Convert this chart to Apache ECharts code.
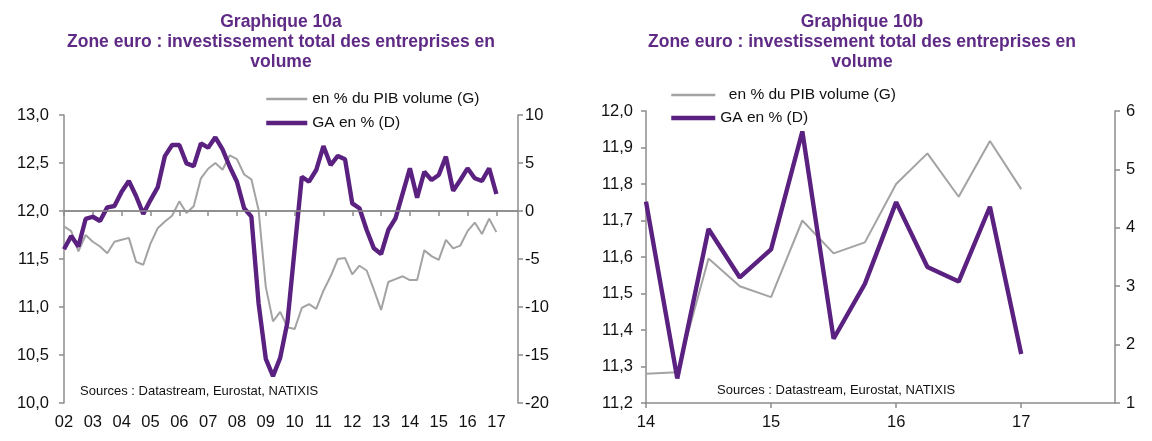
<!DOCTYPE html>
<html><head><meta charset="utf-8">
<script src="https://cdn.jsdelivr.net/npm/echarts@6/dist/echarts.min.js"></script>
<style>html,body{margin:0;padding:0;background:#fff}#c{width:1152px;height:441px}</style>
</head><body><div id="c"></div>
<script>
// ---- Data: Graphique 10a (quarterly 2002T1 .. 2017T1, axis to 2017T4)
const yearsA = ['02','03','04','05','06','07','08','09','10','11','12','13','14','15','16','17'];
const pibA = [11.84,11.79,11.58,11.75,11.68,11.63,11.56,11.68,11.70,11.72,11.47,11.44,11.66,11.82,11.89,11.95,
  12.10,11.98,12.05,12.34,12.44,12.50,12.43,12.58,12.54,12.38,12.33,12.01,11.21,10.85,10.95,10.79,
  10.77,10.99,11.03,10.98,11.17,11.32,11.50,11.51,11.34,11.43,11.38,11.18,10.97,11.26,11.29,11.32,
  11.28,11.28,11.59,11.53,11.49,11.70,11.61,11.64,11.79,11.88,11.76,11.92,11.78];
const gaA = [-3.99,-2.6,-3.7,-0.83,-0.6,-1.04,0.38,0.52,2.0,3.12,1.56,-0.3,1.14,2.46,5.72,6.87,
  6.87,4.96,4.68,7.04,6.59,7.67,6.42,4.61,3.05,0.28,-0.59,-9.6,-15.4,-17.2,-15.3,-11.6,
  -4.0,3.57,3.05,4.27,6.77,4.79,5.73,5.39,0.80,0.28,-1.98,-3.89,-4.48,-1.98,-0.76,1.84,
  4.45,1.39,4.09,3.23,3.75,5.66,2.11,3.23,4.45,3.41,3.13,4.45,1.77];
// ---- Data: Graphique 10b (quarterly 2014T1 .. 2017T1, axis to 2017T4)
const yearsB = ['14','15','16','17'];
const pibB = [11.28,11.284,11.596,11.52,11.49,11.70,11.61,11.64,11.80,11.884,11.765,11.918,11.786];
const gaB = [4.45,1.42,3.98,3.15,3.63,5.65,2.10,3.04,4.44,3.33,3.08,4.36,1.84];

const nameG = 'en % du PIB volume (G)';
const nameGb = '  en % du PIB volume (G)';
const nameD = 'GA en % (D)';
const nameDb = 'GA en % (D) ';
const titleA = 'Graphique 10a\nZone euro : investissement total des entreprises en\nvolume';
const titleB = 'Graphique 10b\nZone euro : investissement total des entreprises en\nvolume';
const source = 'Sources : Datastream, Eurostat, NATIXIS';

function quarters(years){const r=[];years.forEach(y=>{for(let q=1;q<=4;q++)r.push(y+'T'+q);});return r;}
const catA = quarters(yearsA), catB = quarters(yearsB);

const PURPLE = '#5b2180', GREY = '#a3a3a3', AXIS = '#8c8c8c', FONT = 'Liberation Sans', LBL = 16.5;
const comma = v => v.toFixed(1).replace('.', ',');

function xAx(grid, cat){
  return {type:'category', gridIndex:grid, data:cat, boundaryGap:false,
    axisLine:{lineStyle:{color:AXIS,width:1.5}},
    axisTick:{interval:3, length:5, lineStyle:{color:AXIS,width:1.5}},
    axisLabel:{interval:3, color:'#111', fontSize:LBL, fontFamily:FONT, margin:11, formatter:v=>v.slice(0,2)},
    splitLine:{show:false}};
}
function yAx(grid, pos, min, max, interval, fmt, margin){
  return {type:'value', gridIndex:grid, position:pos, min, max, interval,
    axisLine:{show:true, lineStyle:{color:AXIS,width:1.5}},
    axisTick:{show:true, length:5, lineStyle:{color:AXIS,width:1.5}},
    axisLabel:{color:'#111', fontSize:LBL, fontFamily:FONT, margin, formatter:fmt},
    splitLine:{show:false}};
}
const legText = {fontSize:15.5, fontFamily:FONT, color:'#111'};

const chart = echarts.init(document.getElementById('c'), null, {renderer:'canvas'});
chart.setOption({
  animation:false,
  backgroundColor:'#fff',
  grid:[{left:64, right:634, top:115, bottom:38},{left:646, right:37, top:111, bottom:38}],
  xAxis:[xAx(0,catA), xAx(1,catB)],
  yAxis:[
    yAx(0,'left',10,13,0.5,comma,15),
    yAx(0,'right',-20,10,5,v=>String(v),7),
    yAx(1,'left',11.2,12.0,0.1,comma,13),
    yAx(1,'right',1,6,1,v=>String(v),11)
  ],
  legend:[
    {orient:'vertical', left:264, top:91, padding:0, itemWidth:41, itemHeight:12, itemGap:8,
     itemStyle:{opacity:0}, textStyle:legText,
     data:[{name:nameG, lineStyle:{width:2.5, color:GREY}}, {name:nameD, lineStyle:{width:4.5, color:PURPLE}}]},
    {orient:'vertical', left:669, top:87, padding:0, itemWidth:44, itemHeight:12, itemGap:7,
     itemStyle:{opacity:0}, textStyle:legText,
     data:[{name:nameGb, lineStyle:{width:2.5, color:GREY}}, {name:nameDb, lineStyle:{width:4.5, color:PURPLE}}]}
  ],
  series:[
    {name:nameG, type:'line', xAxisIndex:0, yAxisIndex:0, data:pibA, symbol:'none',
     lineStyle:{color:GREY,width:2}, itemStyle:{color:GREY}},
    {name:nameD, type:'line', xAxisIndex:0, yAxisIndex:1, data:gaA, symbol:'none', z:3,
     lineStyle:{color:PURPLE,width:4.4}, itemStyle:{color:PURPLE},
     markLine:{silent:true, symbol:'none', label:{show:false}, lineStyle:{color:'#8a8a8a', width:1.5, type:'solid'},
       data:[{yAxis:0}]}},
    {name:nameGb, type:'line', xAxisIndex:1, yAxisIndex:2, data:pibB, symbol:'none',
     lineStyle:{color:GREY,width:2}, itemStyle:{color:GREY}},
    {name:nameDb, type:'line', xAxisIndex:1, yAxisIndex:3, data:gaB, symbol:'none', z:3,
     lineStyle:{color:PURPLE,width:4.4}, itemStyle:{color:PURPLE}}
  ],
  graphic:[
    {type:'text', x:281, y:12, style:{text:titleA, textAlign:'center', font:'bold 17.5px "Liberation Sans"', fill:'#5f2a85', lineHeight:20}},
    {type:'text', x:862, y:12, style:{text:titleB, textAlign:'center', font:'bold 17.5px "Liberation Sans"', fill:'#5f2a85', lineHeight:20}},
    {type:'text', x:80, y:385, style:{text:source, font:'13px "Liberation Sans"', fill:'#111'}},
    {type:'text', x:717, y:384, style:{text:source, font:'13px "Liberation Sans"', fill:'#111'}}
  ]
});
</script></body></html>
